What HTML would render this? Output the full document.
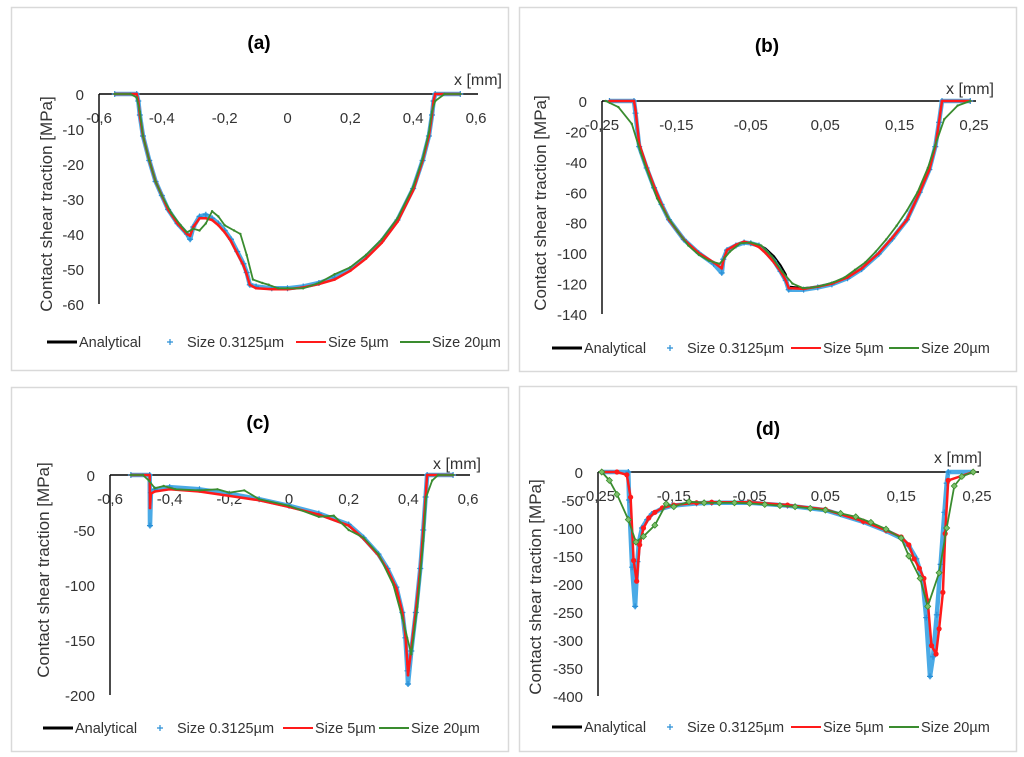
<!DOCTYPE html>
<html><head><meta charset="utf-8">
<style>
html,body{margin:0;padding:0;background:#fff;}
svg{display:block;font-family:"Liberation Sans",sans-serif;}
</style></head>
<body>
<svg id="fig" width="1024" height="757" viewBox="0 0 1024 757"></svg>
<script>
// ---------- Panel (a) data ----------
const aTicksX = [-0.6,-0.4,-0.2,0,0.2,0.4,0.6];
const aTicksY = [0,-10,-20,-30,-40,-50,-60];
const aAnaX = [-0.55,-0.48,-0.475,-0.47,-0.46,-0.44,-0.42,-0.40,-0.38,-0.35,-0.32,-0.31,-0.30,-0.28,-0.26,-0.24,-0.22,-0.20,-0.18,-0.16,-0.14,-0.13,-0.12,-0.10,-0.05,0,0.05,0.1,0.15,0.2,0.25,0.3,0.35,0.4,0.43,0.45,0.46,0.465,0.47,0.55];
const aAnaY = [0,0,-2,-6,-12,-19,-25,-29,-33,-37,-40,-41,-38,-35.5,-35,-35.5,-37,-39,-41.5,-45,-48.5,-51,-54,-55,-55.5,-55.5,-55,-54,-52.5,-50,-46.5,-42,-36,-27,-19,-12,-6,-2,0,0];
const aS1X = aAnaX;
const aS1Y = [0,0,-2,-6,-12,-19,-25,-29,-33,-37,-40,-41.5,-38,-35,-34.5,-35.5,-37,-39,-41.5,-45,-48.5,-51,-54.5,-55,-55.5,-55.5,-55,-54,-52.5,-50,-46.5,-42,-36,-27,-19,-12,-6,-2,0,0];
const aS5X = aAnaX;
const aS5Y = [0,0,-2,-6,-12,-19,-25,-29,-33,-37,-40,-40.5,-38,-35.5,-35.5,-36,-37.5,-39.5,-42,-45.5,-49,-51.5,-54.5,-55.5,-55.8,-55.8,-55.3,-54.3,-53,-50.5,-47,-42.5,-36.5,-27.5,-19,-12,-6,-2,0,0];
const aS20X = [-0.55,-0.5,-0.48,-0.47,-0.46,-0.44,-0.42,-0.40,-0.37,-0.34,-0.32,-0.30,-0.28,-0.26,-0.24,-0.22,-0.20,-0.17,-0.15,-0.13,-0.11,-0.08,-0.06,-0.03,0,0.05,0.1,0.15,0.2,0.25,0.3,0.35,0.4,0.43,0.45,0.46,0.47,0.5,0.55];
const aS20Y = [0,0,-1,-5,-12,-19,-25,-29,-34,-37.5,-39.5,-38.5,-39,-37,-33.5,-35,-37.5,-39,-40,-46,-53,-54,-54.5,-55.5,-55.5,-55.5,-54,-51.5,-49.5,-46,-41.5,-35.5,-26.5,-18.5,-11,-5,-2,0,0];

// ---------- Panel (b) data ----------
const bTicksX = [-0.25,-0.15,-0.05,0.05,0.15,0.25];
const bTicksY = [0,-20,-40,-60,-80,-100,-120,-140];
const bAnaX = [-0.24,-0.207,-0.205,-0.2,-0.19,-0.18,-0.17,-0.16,-0.14,-0.12,-0.10,-0.089,-0.087,-0.082,-0.07,-0.059,-0.05,-0.039,-0.03,-0.019,-0.01,-0.003,0.001,0.021,0.04,0.059,0.08,0.099,0.122,0.14,0.16,0.177,0.19,0.198,0.203,0.207,0.245];
const bAnaY = [0,0,-8,-30,-44,-57,-68,-78,-91,-100,-107,-112,-104,-98,-95,-93,-93.3,-94.5,-97,-102,-108,-114,-122,-123,-122,-120,-116,-110,-100,-90,-78,-60,-45,-30,-14,0,0];
const bS1X = bAnaX;
const bS1Y = [0,0,-8,-30,-44,-57,-68,-78,-91,-100,-107,-113,-104,-98,-95,-93,-93.5,-95,-99,-105,-112,-118,-124,-124,-122.5,-120.5,-116.5,-110.5,-100.5,-90.5,-78,-60,-45,-30,-14,0,0];
const bS5X = bAnaX;
const bS5Y = [0,0,-6,-28,-43,-56,-68,-78,-91,-100,-106,-110,-105,-98,-94.5,-92.5,-93.5,-96,-100,-106,-112,-118,-123,-123.5,-122,-120,-116,-110,-100,-90,-78,-60,-45,-30,-14,0,0];
const bS20X = [-0.245,-0.228,-0.21,-0.198,-0.19,-0.176,-0.162,-0.148,-0.134,-0.12,-0.106,-0.092,-0.078,-0.064,-0.05,-0.036,-0.022,-0.008,0.006,0.02,0.034,0.048,0.062,0.076,0.09,0.104,0.118,0.132,0.146,0.16,0.174,0.188,0.198,0.21,0.228,0.245];
const bS20Y = [0,-4,-15,-34,-45,-64,-76,-86,-95,-101,-105,-107,-99,-93.5,-93,-95,-102,-112,-120,-123,-122.5,-121,-119,-116,-111,-106,-99,-91,-82,-72,-60,-44,-29,-12,-3,0];

// ---------- Panel (c) data ----------
const cTicksX = [-0.6,-0.4,-0.2,0,0.2,0.4,0.6];
const cTicksY = [0,-50,-100,-150,-200];
const cAnaX = [-0.53,-0.467,-0.466,-0.463,-0.45,-0.4,-0.3,-0.2,-0.1,0,0.1,0.2,0.25,0.3,0.33,0.36,0.38,0.39,0.397,0.399,0.41,0.425,0.44,0.45,0.458,0.463,0.55];
const cAnaY = [0,0,-38,-15,-13,-11,-13,-17,-22,-28,-35,-45,-57,-72,-85,-102,-125,-145,-175,-186,-160,-125,-85,-50,-20,0,0];
const cS1X = cAnaX;
const cS1Y = [0,0,-46,-16,-13,-11,-13,-17,-22,-28,-35,-45,-57,-72,-85,-102,-125,-148,-178,-190,-160,-125,-85,-50,-20,0,0];
const cS5X = cAnaX;
const cS5Y = [0,0,-30,-17,-15,-13,-15,-19,-23,-29,-36,-46,-58,-73,-86,-103,-125,-145,-172,-182,-158,-124,-85,-50,-20,0,0];
const cS20X = [-0.53,-0.49,-0.47,-0.45,-0.42,-0.38,-0.3,-0.24,-0.2,-0.15,-0.1,0,0.1,0.15,0.2,0.25,0.3,0.35,0.38,0.41,0.43,0.45,0.46,0.48,0.5,0.55];
const cS20Y = [0,0,-5,-12,-10,-13,-14,-13,-16,-14,-22,-28,-38,-37,-50,-57,-72,-100,-130,-163,-120,-60,-20,-5,0,0];

// ---------- Panel (d) data ----------
const dTicksX = [-0.25,-0.15,-0.05,0.05,0.15,0.25];
const dTicksY = [0,-50,-100,-150,-200,-250,-300,-350,-400];
const dAnaX = [-0.245,-0.21,-0.209,-0.205,-0.201,-0.198,-0.196,-0.192,-0.185,-0.179,-0.165,-0.152,-0.12,-0.1,-0.05,0,0.05,0.1,0.13,0.15,0.16,0.17,0.178,0.183,0.188,0.192,0.197,0.202,0.207,0.21,0.212,0.245];
const dAnaY = [0,0,-40,-150,-215,-160,-125,-100,-85,-75,-65,-60,-56,-55,-55,-60,-68,-89,-105,-118,-132,-153,-185,-250,-350,-320,-250,-160,-70,-20,0,0];
const dS1X = dAnaX;
const dS1Y = [0,0,-50,-170,-240,-160,-125,-100,-85,-75,-65,-60,-56,-55,-55,-60,-68,-89,-105,-118,-132,-155,-190,-260,-365,-330,-255,-165,-72,-20,0,0];
const dS5X = [-0.245,-0.225,-0.212,-0.207,-0.203,-0.199,-0.195,-0.19,-0.183,-0.175,-0.165,-0.15,-0.12,-0.1,-0.05,0,0.05,0.1,0.13,0.15,0.16,0.167,0.174,0.18,0.185,0.19,0.196,0.2,0.205,0.208,0.212,0.245];
const dS5Y = [0,0,-5,-45,-158,-195,-130,-100,-82,-72,-64,-59,-55,-54,-54,-59,-67,-88,-104,-116,-130,-155,-172,-190,-230,-310,-325,-280,-215,-110,-15,0];
const dS20X = [-0.245,-0.235,-0.225,-0.21,-0.2,-0.19,-0.175,-0.16,-0.15,-0.13,-0.11,-0.09,-0.07,-0.05,-0.03,-0.01,0.01,0.03,0.05,0.07,0.09,0.11,0.13,0.15,0.16,0.175,0.185,0.2,0.21,0.22,0.23,0.245];
const dS20Y = [0,-15,-40,-85,-125,-115,-95,-57,-62,-53,-55,-55,-55,-56,-58,-60,-62,-65,-68,-74,-80,-90,-102,-118,-150,-190,-240,-180,-100,-25,-8,0];

const NS = "http://www.w3.org/2000/svg";
const svg = document.getElementById("fig");
function mk(tag, attrs, parent){
  const e = document.createElementNS(NS, tag);
  for (const k in attrs) e.setAttribute(k, attrs[k]);
  (parent||svg).appendChild(e);
  return e;
}
function fmt(v){ return (Math.round(v*1000)/1000).toString().replace('.', ','); }

function drawPanel(p){
  const g = mk("g", {});
  
  
  const frame = mk("rect", {x:p.fx+0.5, y:p.fy+0.5, width:p.fw, height:p.fh, fill:"#fff", stroke:"#d9d9d9", "stroke-width":1.5}, g);
  
  
  const X = v => p.x0 + (v - p.xmin) / (p.xmax - p.xmin) * (p.x1 - p.x0);
  const Y = v => p.y0 + (v - p.ymax) / (p.ymin - p.ymax) * (p.y1 - p.y0);
  const t = mk("text", {x:p.tx, y:p.ty, "text-anchor":"middle", "font-size":19, "font-weight":"bold", fill:"#000"}, g);
  t.textContent = "(" + p.id + ")";
  
  
  const xa = mk("line", {x1:p.x0, y1:Y(0), x2:X(p.xmax)+2, y2:Y(0), stroke:"#000", "stroke-width":1.4}, g);
  
  
  const ya = mk("line", {x1:p.x0, y1:Y(0), x2:p.x0, y2:Y(p.ymin), stroke:"#000", "stroke-width":1.4}, g);
  
  
  p.ticksX.forEach(v => {
    const e = mk("text", {x:X(v), y:Y(0)+29, "text-anchor":"middle", "font-size":15, fill:"#333"}, g);
    e.textContent = fmt(v);
    
    
  });
  p.ticksY.forEach(v => {
    const e = mk("text", {x:p.x0-15, y:Y(v)+6, "text-anchor":"end", "font-size":15, fill:"#333"}, g);
    e.textContent = fmt(v);
    
    
  });
  const xl = mk("text", {x:p.xlx, y:p.xly, "text-anchor":"end", "font-size":16, fill:"#333"}, g);
  xl.textContent = "x [mm]";
  
  
  const yl = mk("text", {x:0, y:0, "text-anchor":"middle", "font-size":17, fill:"#333", transform:"translate(" + p.ylx + "," + p.yly + ") rotate(-90)"}, g);
  yl.textContent = "Contact shear traction [MPa]";
  
  
  const pts = (xs, ys) => xs.map((v,i) => X(v).toFixed(1) + "," + Y(ys[i]).toFixed(1)).join(" ");
  const ana = mk("polyline", {points:pts(p.ana[0], p.ana[1]), fill:"none", stroke:"#000", "stroke-width":2}, g);
  
  
  const s1 = mk("polyline", {points:pts(p.s1[0], p.s1[1]), fill:"none", stroke:"#4aaae6", "stroke-width":4.5, "stroke-linejoin":"round"}, g);
  
  
  p.s1[0].forEach((v,i) => {
    const cx = X(v), cy = Y(p.s1[1][i]);
    const m = mk("path", {d:"M"+(cx-3)+","+cy+"h6M"+cx+","+(cy-3)+"v6", stroke:"#2b8fd6", "stroke-width":1.2}, g);
    
    
  });
  const s5 = mk("polyline", {points:pts(p.s5[0], p.s5[1]), fill:"none", stroke:"#ff1a1a", "stroke-width":2.5, "stroke-linejoin":"round"}, g);
  
  
  p.s5[0].forEach((v,i) => {
    const m = mk("circle", {cx:X(v), cy:Y(p.s5[1][i]), r:p.bigMarks?2.6:1.3, fill:"#ff1a1a"}, g);
    
    
  });
  const s20 = mk("polyline", {points:pts(p.s20[0], p.s20[1]), fill:"none", stroke:"#3a8c2f", "stroke-width":1.8, "stroke-linejoin":"round"}, g);
  
  
  p.s20[0].forEach((v,i) => {
    const cx = X(v), cy = Y(p.s20[1][i]);
    const m = p.bigMarks
      ? mk("path", {d:"M"+cx+","+(cy-3)+"l3,3l-3,3l-3,-3z", fill:"#7cc06a", stroke:"#3a8c2f", "stroke-width":0.8}, g)
      : mk("circle", {cx:cx, cy:cy, r:1.2, fill:"#3a8c2f"}, g);
    
    
  });
  const L = p.leg, ly = L.y;
  const lg = mk("g", {}, g);
  
  
  const entries = [
    {lx:L.a, name:"Analytical", color:"#000", kind:"line", w:3},
    {lx:L.b, name:"Size 0.3125µm", color:"#2b8fd6", kind:"plus"},
    {lx:L.c, name:"Size 5µm", color:"#ff1a1a", kind:"line", w:2},
    {lx:L.d, name:"Size 20µm", color:"#3a8c2f", kind:"line", w:2}
  ];
  entries.forEach(en => {
    const eg = mk("g", {}, lg);
    
    
    let tx;
    if (en.kind === "line"){
      mk("line", {x1:en.lx, y1:ly, x2:en.lx+30, y2:ly, stroke:en.color, "stroke-width":en.w}, eg);
      tx = en.lx + 32;
    } else {
      mk("path", {d:"M"+(en.lx-3)+","+ly+"h6M"+en.lx+","+(ly-3)+"v6", stroke:en.color, "stroke-width":1.2}, eg);
      tx = en.lx + 17;
    }
    const te = mk("text", {x:tx, y:ly+5, "font-size":14.5, fill:"#333"}, eg);
    te.textContent = en.name;
  });
}

drawPanel({id:"a", fx:11, fy:7, fw:497, fh:363, tx:259, ty:49, x0:99, x1:476, y0:94, y1:304, xmin:-0.6, xmax:0.6, ymax:0, ymin:-60,
  ticksX:aTicksX, ticksY:aTicksY, xlx:502, xly:85, ylx:52, yly:204,
  ana:[aAnaX,aAnaY], s1:[aS1X,aS1Y], s5:[aS5X,aS5Y], s20:[aS20X,aS20Y], bigMarks:false,
  leg:{y:342, a:47, b:170, c:296, d:400}});
drawPanel({id:"b", fx:519, fy:7, fw:497, fh:364, tx:767, ty:52, x0:602, x1:974, y0:101, y1:314, xmin:-0.25, xmax:0.25, ymax:0, ymin:-140,
  ticksX:bTicksX, ticksY:bTicksY, xlx:994, xly:94, ylx:546, yly:203,
  ana:[bAnaX,bAnaY], s1:[bS1X,bS1Y], s5:[bS5X,bS5Y], s20:[bS20X,bS20Y], bigMarks:false,
  leg:{y:348, a:552, b:670, c:791, d:889}});
drawPanel({id:"c", fx:11, fy:387, fw:497, fh:364, tx:258, ty:429, x0:110, x1:468, y0:475, y1:695, xmin:-0.6, xmax:0.6, ymax:0, ymin:-200,
  ticksX:cTicksX, ticksY:cTicksY, xlx:481, xly:469, ylx:49, yly:570,
  ana:[cAnaX,cAnaY], s1:[cS1X,cS1Y], s5:[cS5X,cS5Y], s20:[cS20X,cS20Y], bigMarks:false,
  leg:{y:728, a:43, b:160, c:283, d:379}});
drawPanel({id:"d", fx:519, fy:386, fw:497, fh:365, tx:768, ty:435, x0:598, x1:977, y0:472, y1:696, xmin:-0.25, xmax:0.25, ymax:0, ymin:-400,
  ticksX:dTicksX, ticksY:dTicksY, xlx:982, xly:463, ylx:541, yly:587,
  ana:[dAnaX,dAnaY], s1:[dS1X,dS1Y], s5:[dS5X,dS5Y], s20:[dS20X,dS20Y], bigMarks:true,
  leg:{y:727, a:552, b:670, c:791, d:889}});
</script>
</body></html>
